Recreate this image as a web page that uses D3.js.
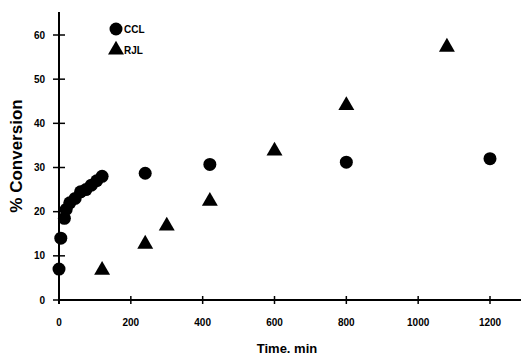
<!DOCTYPE html>
<html>
<head>
<meta charset="utf-8">
<script src="https://cdn.jsdelivr.net/npm/d3@7"></script>
<style>
  body { margin: 0; background: #fff; }
  text { font-family: "Liberation Sans", Arial, sans-serif; font-weight: bold; fill: #000; }
</style>
</head>
<body>
<script>
    // CCL series (circles)
    var cclTime = [0, 5, 15, 20, 30, 45, 60, 75, 90, 105, 120, 240, 420, 800, 1200];
    var cclConv = [7, 14, 18.5, 20.5, 22, 23, 24.5, 25, 26, 27, 28, 28.7, 30.7, 31.2, 32];

    // RJL series (triangles)
    var rjlTime = [120, 240, 300, 420, 600, 800, 1080];
    var rjlConv = [7, 12.9, 17, 22.6, 34, 44.3, 57.5];

    var xTicks = [0, 200, 400, 600, 800, 1000, 1200];
    var yTicks = [0, 10, 20, 30, 40, 50, 60];
    var legendNames = ["CCL", "RJL"];

    var w = 523, h = 356;
    var svg = d3.select("body").append("svg")
        .attr("width", w)
        .attr("height", h);

    var x = d3.scaleLinear().domain([0, 1200]).range([59, 490]);
    var y = d3.scaleLinear().domain([0, 60]).range([300, 35]);

    // axes lines
    svg.append("line")
        .attr("x1", x(0)).attr("x2", 521)
        .attr("y1", y(0)).attr("y2", y(0))
        .attr("stroke", "#000").attr("stroke-width", 2);
    svg.append("line")
        .attr("x1", x(0)).attr("x2", x(0))
        .attr("y1", 12).attr("y2", y(0) + 4)
        .attr("stroke", "#000").attr("stroke-width", 2);

    // y ticks (cross the axis)
    svg.selectAll(".ytick").data(yTicks).enter().append("line")
        .attr("class", "ytick")
        .attr("x1", x(0) - 6).attr("x2", x(0) + 6)
        .attr("y1", function (d) { return y(d); })
        .attr("y2", function (d) { return y(d); })
        .attr("stroke", "#000").attr("stroke-width", 1.5);
    svg.selectAll(".ylab").data(yTicks).enter().append("text")
        .attr("class", "ylab")
        .attr("x", 45)
        .attr("y", function (d) { return y(d) + 3.5; })
        .attr("text-anchor", "end")
        .attr("font-size", 10)
        .text(function (d) { return d; });

    // x ticks
    svg.selectAll(".xtick").data(xTicks).enter().append("line")
        .attr("class", "xtick")
        .attr("x1", function (d) { return x(d); })
        .attr("x2", function (d) { return x(d); })
        .attr("y1", y(0) - 4).attr("y2", y(0) + 4)
        .attr("stroke", "#000").attr("stroke-width", 1.5);
    svg.selectAll(".xlab").data(xTicks).enter().append("text")
        .attr("class", "xlab")
        .attr("x", function (d) { return x(d); })
        .attr("y", 326)
        .attr("text-anchor", "middle")
        .attr("font-size", 10)
        .text(function (d) { return d; });

    // axis titles
    svg.append("text")
        .attr("x", 287).attr("y", 353)
        .attr("text-anchor", "middle")
        .attr("font-size", 13)
        .text("Time. min");
    svg.append("text")
        .attr("transform", "translate(22,156) rotate(-90)")
        .attr("text-anchor", "middle")
        .attr("font-size", 17)
        .text("% Conversion");

    var ccl = cclTime.map(function (t, i) { return {t: t, v: cclConv[i]}; });
    var rjl = rjlTime.map(function (t, i) { return {t: t, v: rjlConv[i]}; });

    svg.selectAll(".ccl").data(ccl).enter().append("circle")
        .attr("class", "ccl")
        .attr("cx", function (d) { return x(d.t); })
        .attr("cy", function (d) { return y(d.v); })
        .attr("r", 6.5)
        .attr("fill", "#000");

    var tri = d3.symbol().type(d3.symbolTriangle).size(110);
    svg.selectAll(".rjl").data(rjl).enter().append("path")
        .attr("class", "rjl")
        .attr("d", tri)
        .attr("transform", function (d) { return "translate(" + x(d.t) + "," + (y(d.v) + 1) + ")"; })
        .attr("fill", "#000");

    // legend
    svg.append("circle").attr("cx", 116).attr("cy", 29).attr("r", 6.5).attr("fill", "#000");
    svg.append("path").attr("d", tri).attr("transform", "translate(116,50)").attr("fill", "#000");
    svg.append("text").attr("x", 124).attr("y", 33).attr("font-size", 10).text(legendNames[0]);
    svg.append("text").attr("x", 124).attr("y", 54).attr("font-size", 10).text(legendNames[1]);
</script>
</body>
</html>
